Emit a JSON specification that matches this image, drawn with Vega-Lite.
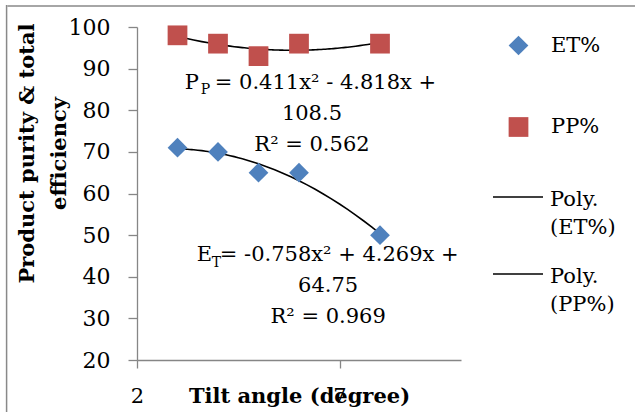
{
  "$schema": "https://vega.github.io/schema/vega-lite/v6.json",
  "width": 324,
  "height": 333,
  "autosize": "none",
  "padding": {"left": 137, "top": 27, "right": 174, "bottom": 52},
  "background": "white",
  "config": {
    "view": {"stroke": null},
    "font": "DejaVu Serif",
    "axis": {
      "grid": false,
      "domainColor": "#868686",
      "tickColor": "#868686",
      "domainWidth": 1.3,
      "tickWidth": 1.3,
      "labelColor": "#000000",
      "titleColor": "#000000",
      "labelFont": "DejaVu Serif",
      "titleFont": "DejaVu Serif",
      "labelFontSize": 21,
      "titleFontSize": 21,
      "titleFontWeight": "bold"
    },
    "legend": {
      "labelFont": "DejaVu Serif",
      "labelFontSize": 21,
      "labelColor": "#000000",
      "labelLimit": 200
    }
  },
  "datasets": {
    "points": [
      {"angle": 3, "value": 71, "series": "ET%"},
      {"angle": 4, "value": 70, "series": "ET%"},
      {"angle": 5, "value": 65, "series": "ET%"},
      {"angle": 6, "value": 65, "series": "ET%"},
      {"angle": 8, "value": 50, "series": "ET%"},
      {"angle": 3, "value": 98, "series": "PP%"},
      {"angle": 4, "value": 96, "series": "PP%"},
      {"angle": 5, "value": 93, "series": "PP%"},
      {"angle": 6, "value": 96, "series": "PP%"},
      {"angle": 8, "value": 96, "series": "PP%"}
    ],
    "eqMain": [
      {"angle": 3.182, "value": 85.1, "text": "P"},
      {"angle": 3.921, "value": 85.1, "text": "= 0.411x² - 4.818x +"},
      {"angle": 3.478, "value": 43.78, "text": "E"},
      {"angle": 4.044, "value": 43.78, "text": "= -0.758x² + 4.269x +"}
    ],
    "eqSub": [
      {"angle": 3.576, "value": 83.9, "text": "P"},
      {"angle": 3.847, "value": 42.34, "text": "T"}
    ],
    "eqCenter": [
      {"angle": 6.32, "value": 77.66, "text": "108.5"},
      {"angle": 6.32, "value": 70.21, "text": "R² = 0.562"},
      {"angle": 6.72, "value": 36.34, "text": "64.75"},
      {"angle": 6.72, "value": 28.89, "text": "R² = 0.969"}
    ],
    "frameTop": [
      {"x1": -1.2, "x2": 16, "y": 105.05}
    ],
    "frameLeft": [
      {"x": -1.22, "y1": 105.3, "y2": 0}
    ]
  },
  "layer": [
    {
      "data": {"name": "frameTop"},
      "mark": {"type": "rule", "color": "#898989", "strokeWidth": 1.5},
      "encoding": {
        "x": {"field": "x1", "type": "quantitative"},
        "x2": {"field": "x2"},
        "y": {"field": "y", "type": "quantitative"}
      }
    },
    {
      "data": {"name": "frameLeft"},
      "mark": {"type": "rule", "color": "#898989", "strokeWidth": 1.5},
      "encoding": {
        "x": {"field": "x", "type": "quantitative"},
        "y": {"field": "y1", "type": "quantitative"},
        "y2": {"field": "y2"}
      }
    },
    {
      "data": {"name": "points"},
      "transform": [
        {"regression": "value", "on": "angle", "groupby": ["series"], "method": "poly", "order": 2}
      ],
      "mark": {"type": "line", "strokeWidth": 1.6},
      "encoding": {
        "x": {"field": "angle", "type": "quantitative"},
        "y": {"field": "value", "type": "quantitative"},
        "stroke": {
          "field": "series",
          "type": "nominal",
          "scale": {"domain": ["ET%", "PP%", "-"], "range": ["#000000", "#000000", "#000000"]},
          "legend": {
            "title": null,
            "orient": "none",
            "legendX": 355,
            "legendY": 144,
            "values": ["ET%", "PP%"],
            "gridAlign": "all",
            "rowPadding": 10,
            "symbolType": "stroke",
            "symbolSize": 2500,
            "symbolStrokeWidth": 1.6,
            "labelOffset": 6,
            "labelBaseline": "top",
            "labelExpr": "['Poly.', '(' + datum.label + ')']",
            "encode": {
              "labels": {
                "update": {
                  "dy": {"value": -8},
                  "lineHeight": {"value": 28}
                }
              }
            }
          }
        }
      }
    },
    {
      "data": {"name": "points"},
      "mark": {"type": "point", "filled": true, "size": 390, "opacity": 1},
      "encoding": {
        "x": {
          "field": "angle",
          "type": "quantitative",
          "scale": {"domain": [2, 10], "nice": false, "zero": false},
          "axis": {
            "values": [2, 7],
            "tickSize": 8,
            "labelPadding": 34,
            "labelFlush": false,
            "labelBaseline": "alphabetic",
            "title": "Tilt angle (degree)",
            "titleBaseline": "alphabetic",
            "titleY": 42
          }
        },
        "y": {
          "field": "value",
          "type": "quantitative",
          "scale": {"domain": [20, 100], "nice": false, "zero": false},
          "axis": {
            "values": [20, 30, 40, 50, 60, 70, 80, 90, 100],
            "tickSize": 9,
            "labelPadding": 18,
            "labelFontSize": 22,
            "title": ["Product purity & total", "efficiency"],
            "titleAngle": -90,
            "titleAlign": "center",
            "titleBaseline": "alphabetic",
            "titleLineHeight": 32,
            "titleX": -104,
            "titleY": 126
          }
        },
        "color": {
          "field": "series",
          "type": "nominal",
          "scale": {"domain": ["ET%", "PP%"], "range": ["#4F81BD", "#C0504D"]},
          "legend": {
            "title": null,
            "orient": "none",
            "legendX": 370.5,
            "legendY": 7.5,
            "rowPadding": 55.5,
            "symbolSize": 390,
            "symbolOpacity": 1,
            "labelOffset": 21.5
          }
        },
        "shape": {
          "field": "series",
          "type": "nominal",
          "scale": {"domain": ["ET%", "PP%"], "range": ["diamond", "square"]}
        }
      }
    },
    {
      "data": {"name": "eqMain"},
      "mark": {"type": "text", "align": "left", "baseline": "alphabetic", "fontSize": 21, "font": "DejaVu Serif", "color": "#000000"},
      "encoding": {
        "x": {"field": "angle", "type": "quantitative"},
        "y": {"field": "value", "type": "quantitative"},
        "text": {"field": "text"}
      }
    },
    {
      "data": {"name": "eqSub"},
      "mark": {"type": "text", "align": "left", "baseline": "alphabetic", "fontSize": 14, "font": "DejaVu Serif", "color": "#000000"},
      "encoding": {
        "x": {"field": "angle", "type": "quantitative"},
        "y": {"field": "value", "type": "quantitative"},
        "text": {"field": "text"}
      }
    },
    {
      "data": {"name": "eqCenter"},
      "mark": {"type": "text", "align": "center", "baseline": "alphabetic", "fontSize": 21, "font": "DejaVu Serif", "color": "#000000"},
      "encoding": {
        "x": {"field": "angle", "type": "quantitative"},
        "y": {"field": "value", "type": "quantitative"},
        "text": {"field": "text"}
      }
    }
  ]
}
